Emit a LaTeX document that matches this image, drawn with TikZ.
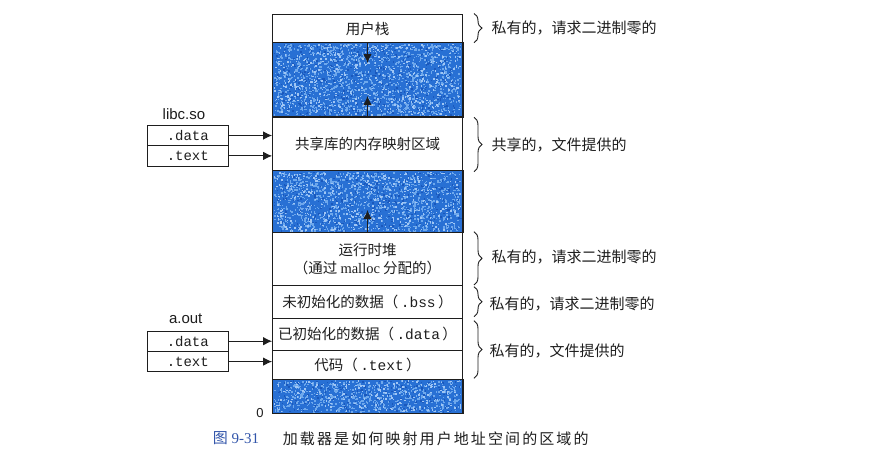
\documentclass[tikz,border=0pt]{standalone}
\usepackage{fontspec}
\setmainfont{Liberation Serif}
\newfontfamily\cjk{Noto Sans CJK SC}
\newfontfamily\cjkcap[LetterSpace=14]{Noto Sans CJK SC}
\newfontfamily\mono{Liberation Mono}
\newfontfamily\arial{Liberation Sans}
\usetikzlibrary{decorations.pathreplacing,arrows.meta}
\definecolor{memblue}{RGB}{40,112,212}
\definecolor{speck}{RGB}{110,168,236}
\definecolor{specklight}{RGB}{160,198,244}
\definecolor{speckdark}{RGB}{26,88,188}
\definecolor{capblue}{RGB}{50,85,170}
\definecolor{ink}{RGB}{30,30,30}
\begin{document}
\begin{tikzpicture}[x=1pt,y=-1pt,
  region/.style={draw=ink, line width=0.8pt, minimum width=190pt, inner sep=0pt, text=ink,
    font=\cjk\fontsize{14.5}{18.3}\selectfont, align=center},
  blueregion/.style={region, fill=memblue},
  secbox/.style={draw=ink, line width=0.8pt, minimum width=81pt, minimum height=20.4pt, inner sep=0pt,
    text=ink, font=\mono\fontsize{14}{16}\selectfont},
  arr/.style={-{Latex[length=9pt,width=8.5pt]}, line width=1pt, ink},
  bracestyle/.style={decorate, decoration={brace, amplitude=8pt}, line width=0.9pt, ink},
  note/.style={anchor=west, inner sep=0pt, text=ink, font=\cjk\fontsize{15}{17}\selectfont},
  filelabel/.style={inner sep=0pt, text=ink, font=\arial\fontsize{15}{17}\selectfont}]
\useasboundingbox (0,0) rectangle (880,455);
\fill[white] (0,0) rectangle (880,455);

% main column
\node[region, minimum height=28pt] (stack) at (367.5,28.7) {用户栈};
\node[blueregion, minimum height=74pt] (blueA) at (367.5,79.7) {};
\node[region, minimum height=54pt] (shared) at (367.5,143.7) {共享库的内存映射区域};
\node[blueregion, minimum height=61.6pt] (blueB) at (367.5,201.5) {};
\node[region, minimum height=53.4pt] (heap) at (367.5,259) {运行时堆\\（通过 {\rmfamily malloc} 分配的）};
\node[region, minimum height=32.6pt] (bss) at (367.5,302) {未初始化的数据（\,{\mono .bss}\,）};
\node[region, minimum height=32pt] (data) at (367.5,334.3) {已初始化的数据（\,{\mono .data}\,）};
\node[region, minimum height=29pt] (text) at (367.5,364.8) {代码（\,{\mono .text}\,）};
\node[blueregion, minimum height=34pt] (blueC) at (367.5,396.3) {};

% speckle texture
\pgfmathsetseed{7}
\foreach \c/\n in {speckdark/500, speck/1300, specklight/500} {
  \foreach \i in {1,...,\n} {\fill[\c] (273.5+186.5*rnd, 43.7+71*rnd) rectangle ++(1.5,1.5);}
}
\foreach \c/\n in {speckdark/420, speck/1080, specklight/420} {
  \foreach \i in {1,...,\n} {\fill[\c] (273.5+186.5*rnd, 171.7+59*rnd) rectangle ++(1.5,1.5);}
}
\foreach \c/\n in {speckdark/230, speck/600, specklight/230} {
  \foreach \i in {1,...,\n} {\fill[\c] (273.5+186.5*rnd, 380.3+31.5*rnd) rectangle ++(1.5,1.5);}
}
\draw[ink, line width=0.8pt] (blueA.north west) rectangle (blueA.south east);
\draw[ink, line width=0.8pt] (blueB.north west) rectangle (blueB.south east);
\draw[ink, line width=0.8pt] (blueC.north west) rectangle (blueC.south east);

% growth arrows
\coordinate (tipA) at (367.5,63);
\coordinate (tipB) at (367.5,96);
\coordinate (tipC) at (367.5,210);
\draw[arr] (stack.south) -- (tipA);
\draw[arr] (shared.north) -- (tipB);
\draw[arr] (heap.north) -- (tipC);

\node[filelabel, font=\arial\fontsize{13}{15}\selectfont] (zero) at (260,412.7) {0};

% libc.so
\node[filelabel] (libc) at (184,114) {libc.so};
\node[secbox] (ldata) at (187.8,135.5) {.data};
\node[secbox] (ltext) at (187.8,155.9) {.text};
\draw[arr] (ldata.east) -- (ldata.east -| shared.west);
\draw[arr] (ltext.east) -- (ltext.east -| shared.west);

% a.out
\node[filelabel] (aout) at (185.7,319) {a.out};
\node[secbox] (adata) at (187.8,341.2) {.data};
\node[secbox] (atext) at (187.8,361.6) {.text};
\draw[arr] (adata.east) -- (adata.east -| data.west);
\draw[arr] (atext.east) -- (atext.east -| text.west);

% braces and notes
\draw[bracestyle] (474,13.5) -- (474,42.7);
\node[note] (n1) at (491.5,28.3) {私有的，请求二进制零的};
\draw[bracestyle] (474,117.3) -- (474,171.7);
\node[note] (n2) at (491.5,145) {共享的，文件提供的};
\draw[bracestyle] (474,231.7) -- (474,285);
\node[note] (n3) at (491.5,256.7) {私有的，请求二进制零的};
\draw[bracestyle] (474,286.7) -- (474,316.7);
\node[note] (n4) at (489.5,304) {私有的，请求二进制零的};
\draw[bracestyle] (474,320.7) -- (474,378.3);
\node[note] (n5) at (489.5,350.7) {私有的，文件提供的};

% caption
\node[anchor=west, inner sep=0pt, text=capblue, font=\fontsize{15}{17}\selectfont] (fig) at (212.7,438.3) {{\cjk 图} 9-31};
\node[anchor=west, inner sep=0pt, text=ink, font=\cjkcap\fontsize{15}{17}\selectfont] (cap) at (282.7,438.3) {加载器是如何映射用户地址空间的区域的};
\end{tikzpicture}
\end{document}
